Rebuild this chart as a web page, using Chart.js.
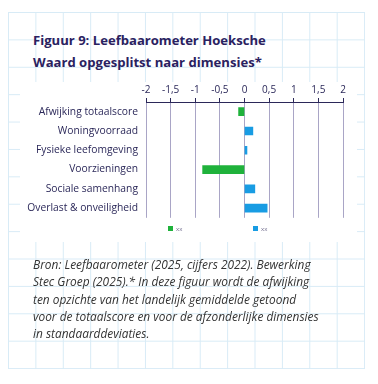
<!DOCTYPE html>
<html>
<head>
<meta charset="utf-8">
<script src="https://cdn.jsdelivr.net/npm/chart.js@4"></script>
<style>
  body { margin: 0; background: #fff; width: 378px; height: 384px; overflow: hidden; position: relative; }
  #box {
    position: absolute; left: 8px; top: 12px; width: 357px; height: 357px;
    background-image:
      linear-gradient(to right, #d8ebf6 1px, transparent 1px),
      linear-gradient(to bottom, #d8ebf6 1px, transparent 1px);
    background-size: 27.4px 27.4px;
  }
  #title {
    position: absolute; left: 33px; top: 29px; margin: 0;
    font-family: "Open Sans", sans-serif; font-weight: 700; font-size: 13.1px;
    line-height: 22px; color: #2a2160;
  }
  #plot { position: absolute; left: 20px; top: 82px; width: 337px; height: 160px; background: #fff; }
  #barChart { position: absolute; left: 0; top: 0; }
  #legend { position: absolute; top: 144px; left: 0; width: 337px; height: 10px; }
  .item { position: absolute; font-family: "Open Sans", sans-serif; font-size: 6px; color: #6e6a8c; line-height: 6px; }
  .item span { display: inline-block; width: 5px; height: 5px; margin-right: 3px; vertical-align: top; }
  #source {
    position: absolute; left: 33px; top: 256px; margin: 0;
    font-family: "Open Sans", sans-serif; font-style: italic; font-size: 11.9px;
    line-height: 17.3px; color: #333;
  }
</style>
</head>
<body>
<div id="box"></div>
<p id="title">Figuur 9: Leefbaarometer Hoeksche<br>Waard opgesplitst naar dimensies*</p>
<div id="plot">
  <canvas id="barChart" width="337" height="150"></canvas>
  <div id="legend"></div>
</div>
<p id="source">Bron: Leefbaarometer (2025, cijfers 2022). Bewerking<br>Stec Groep (2025).* In deze figuur wordt de afwijking<br>ten opzichte van het landelijk gemiddelde getoond<br>voor de totaalscore en voor de afzonderlijke dimensies<br>in standaarddeviaties.</p>
<script>
// Data
const categories = ["Afwijking totaalscore", "Woningvoorraad", "Fysieke leefomgeving", "Voorzieningen", "Sociale samenhang", "Overlast & onveiligheid"];
const greenValues = [-0.12, null, null, -0.85, null, null];
const blueValues = [null, 0.17, 0.05, null, 0.21, 0.46];
const seriesNames = ["xx", "xx"];
const tickValues = [-2, -1.5, -1, -0.5, 0, 0.5, 1, 1.5, 2];

const green = "#1fb23b";
const blue = "#189ce3";
const navy = "#2b2859";

const ctx = document.getElementById("barChart");
const chart = new Chart(ctx, {
    type: "bar",
    data: {
        labels: categories,
        datasets: [
            { label: seriesNames[0], data: greenValues, backgroundColor: green, barThickness: 8 },
            { label: seriesNames[1], data: blueValues, backgroundColor: blue, barThickness: 8 }
        ]
    },
    options: {
        indexAxis: "y",
        responsive: false,
        animation: false,
        grouped: false,
        layout: { padding: { right: 14, bottom: 4, top: 0, left: 0 } },
        plugins: { legend: { display: false }, tooltip: { enabled: false } },
        scales: {
            x: {
                position: "top",
                min: -2,
                max: 2,
                afterBuildTicks: axis => { axis.ticks = tickValues.map(v => ({ value: v })); },
                afterFit: axis => { axis.height = 20; },
                ticks: {
                    color: navy,
                    font: { family: "Open Sans", size: 10 },
                    padding: 2,
                    maxRotation: 0,
                    callback: v => String(v).replace(".", ",")
                },
                grid: { color: "#a9a5c6", tickColor: navy, tickLength: 4, lineWidth: 1 },
                border: { color: navy, width: 1 }
            },
            y: {
                afterFit: axis => { axis.width = 126; },
                ticks: { color: navy, font: { family: "Open Sans", size: 10.3 }, padding: 8 },
                grid: { display: false, drawTicks: false },
                border: { display: false }
            }
        }
    }
});

// Legende als HTML
const legendEl = document.getElementById("legend");
const legendX = [148, 233];
chart.data.datasets.forEach((ds, i) => {
    const item = document.createElement("div");
    item.className = "item";
    item.style.left = legendX[i] + "px";
    item.innerHTML = '<span style="background:' + ds.backgroundColor + '"></span>' + ds.label;
    legendEl.appendChild(item);
});
</script>
</body>
</html>
